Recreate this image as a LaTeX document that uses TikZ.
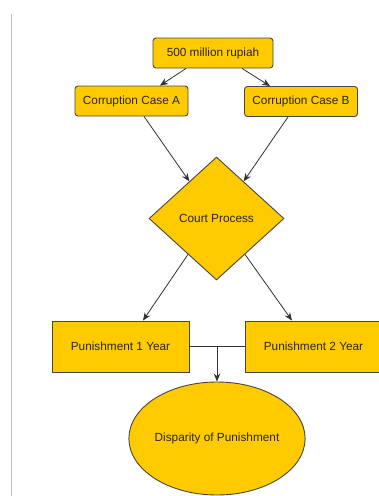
\documentclass[tikz,border=0pt]{standalone}
\usepackage{fontspec}
\setmainfont{Liberation Sans}
\usetikzlibrary{shapes.geometric,arrows.meta,calc}
\definecolor{gold}{RGB}{255,202,0}
\definecolor{edge}{RGB}{70,70,70}
\definecolor{wire}{RGB}{50,50,50}
\begin{document}
\begin{tikzpicture}[x=1pt,y=-1pt,
  every node/.style={font=\fontsize{11.8}{14}\selectfont, text=black!85, inner sep=0pt},
  rbox/.style={draw=edge, fill=gold, line width=0.9pt, rounded corners=3pt},
  sbox/.style={draw=edge, fill=gold, line width=0.9pt},
  arr/.style={draw=wire, line width=0.8pt, -{Stealth[length=8pt,width=6.5pt]}},
  wireline/.style={draw=wire, line width=0.8pt}]
\useasboundingbox (0,0) rectangle (379,496);
\fill[white] (0,0) rectangle (379,496);
\draw[black!25, line width=1pt] (11,14) -- (11,496);
\node[rbox, minimum width=120pt, minimum height=30pt] (top) at (213,53) {500 million rupiah};
\node[rbox, minimum width=113pt, minimum height=30pt] (A) at (131.5,101) {Corruption Case A};
\node[rbox, minimum width=113pt, minimum height=30pt] (B) at (301,101.5) {Corruption Case B};
\node[sbox, shape=diamond, minimum width=135pt, minimum height=123pt] (d) at (216.5,218.5) {Court Process};
\node[sbox, minimum width=137pt, minimum height=51pt] (P1) at (120.5,346.5) {Punishment 1 Year};
\node[sbox, minimum width=137pt, minimum height=51pt] (P2) at (313.5,346.5) {Punishment 2 Year};
\node[sbox, shape=ellipse, minimum width=176pt, minimum height=113pt] (E) at (217,438.5) {Disparity of Punishment};
\draw[arr] ([xshift=-27pt]top.south) -- ([xshift=28.5pt]A.north);
\draw[arr] ([xshift=29pt]top.south) -- ([xshift=-31pt]B.north);
\draw[arr] ([xshift=12.5pt]A.south) -- ($(d.west)!0.6!(d.north)$);
\draw[arr] ([xshift=-13pt]B.south) -- ($(d.east)!0.6!(d.north)$);
\draw[arr] ($(d.west)!0.58!(d.south)$) -- ([xshift=22.5pt]P1.north);
\draw[arr] ($(d.east)!0.58!(d.south)$) -- ([xshift=-21.5pt]P2.north);
\draw[wireline] (P1.east) -- (P2.west);
\coordinate (j) at (E.north |- P1.east);
\draw[arr] (j) -- (E.north);
\end{tikzpicture}
\end{document}
